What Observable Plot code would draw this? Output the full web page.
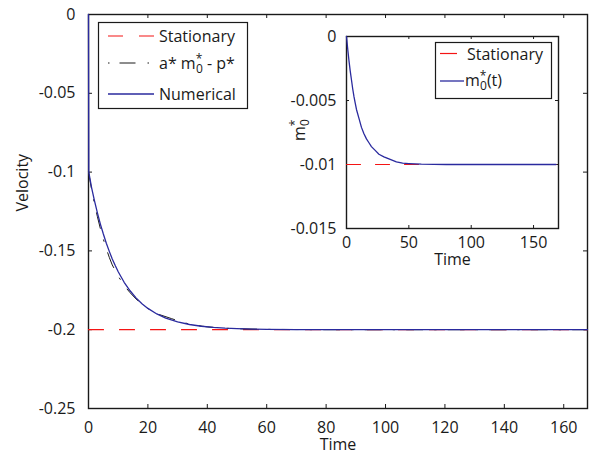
<!DOCTYPE html>
<html><head><meta charset="utf-8">
<script src="https://cdn.jsdelivr.net/npm/d3@7"></script>
<script src="https://cdn.jsdelivr.net/npm/@observablehq/plot@0.6"></script>
<style>
body{margin:0;background:#fff}
#wrap{position:relative;width:589px;height:454px}
#wrap svg{position:absolute;left:0;top:0}
</style>
</head><body><div id="wrap"></div>
<script>
// ---- data ----
const timeNum = [0, 0.1, 1, 2, 3, 4, 5, 6, 7, 8, 9, 10, 12, 14, 16, 18, 20, 23, 26, 30, 34, 38, 42, 46, 50, 55, 60, 70, 80, 100, 130, 168];
const velNum  = [0, -0.1, -0.1095, -0.1181, -0.1259, -0.1330, -0.1393, -0.1451, -0.1503, -0.1551, -0.1593, -0.1632, -0.1699, -0.1753, -0.1798, -0.1835, -0.1865, -0.1900, -0.1926, -0.1950, -0.1967, -0.1978, -0.1985, -0.1990, -0.1993, -0.1996, -0.1998, -0.1999, -0.2, -0.2, -0.2, -0.2];
const timeApprox = [0, 1, 2, 3, 4, 5, 6, 7, 8, 10, 12, 14, 16, 18, 20, 24, 28, 32, 36, 40, 45, 50, 60, 80, 120, 168];
const velApprox  = [-0.1, -0.1105, -0.1199, -0.1283, -0.1359, -0.1426, -0.1487, -0.1541, -0.1589, -0.1660, -0.1720, -0.1765, -0.1805, -0.1838, -0.1866, -0.1905, -0.1930, -0.1955, -0.1972, -0.1982, -0.1990, -0.1994, -0.1998, -0.2, -0.2, -0.2];
const timeStat = [0, 168];
const velStat = [-0.2, -0.2];
const timeM = [0, 1, 2, 3, 4, 5, 6, 7, 8, 10, 12, 14, 16, 18, 20, 23, 26, 30, 35, 40, 45, 50, 60, 80, 120, 168];
const m0 = [0, -0.0010, -0.0019, -0.0027, -0.0034, -0.0041, -0.0047, -0.0052, -0.0057, -0.0064, -0.0071, -0.0076, -0.0080, -0.0083, -0.0086, -0.0089, -0.0092, -0.0094, -0.0096, -0.0098, -0.0099, -0.00993, -0.00997, -0.0100, -0.0100, -0.0100];
const mStat = [-0.01, -0.01];
const mainTicksX = [0, 20, 40, 60, 80, 100, 120, 140, 160];
const mainTicksY = [0, -0.05, -0.1, -0.15, -0.2, -0.25];
const insetTicksX = [0, 50, 100, 150];
const insetTicksY = [0, -0.005, -0.01, -0.015];

const numerical = timeNum.map((t, i) => ({t, v: velNum[i]}));
const approx = timeApprox.map((t, i) => ({t, v: velApprox[i]}));
const stationary = timeStat.map((t, i) => ({t, v: velStat[i]}));
const mSeries = timeM.map((t, i) => ({t, v: m0[i]}));
const mStationary = timeStat.map((t, i) => ({t, v: mStat[i]}));

const FONT = "'Open Sans', sans-serif";
const INK = "#1a1a1a";
const RED = "#f41414";
const BLUE = "#2a2a9e";
const fmt = d => String(d);

// ---- main chart ----
const W = 589, H = 454, mL = 88, mR = 2, mT = 14, mB = 46;
const fw = W - mL - mR, fh = H - mT - mB;
const main = Plot.plot({
  width: W, height: H, marginLeft: mL, marginRight: mR, marginTop: mT, marginBottom: mB,
  style: {fontFamily: FONT, fontSize: "16px", color: INK, background: "white", overflow: "visible"},
  x: {domain: [0, 168]},
  y: {domain: [-0.25, 0]},
  marks: [
    Plot.frame({stroke: INK, strokeWidth: 1.4}),
    Plot.tickX(mainTicksX, {x: d => d, insetTop: fh - 4, stroke: INK}),
    Plot.tickX(mainTicksX, {x: d => d, insetBottom: fh - 4, stroke: INK}),
    Plot.tickY(mainTicksY, {y: d => d, insetRight: fw - 4, stroke: INK}),
    Plot.tickY(mainTicksY, {y: d => d, insetLeft: fw - 4, stroke: INK}),
    Plot.axisX({ticks: mainTicksX, tickSize: 0, tickPadding: 13, tickFormat: fmt, label: null}),
    Plot.axisY({ticks: mainTicksY, tickSize: 0, tickPadding: 13, tickFormat: fmt, label: null}),
    Plot.text(["Time"], {text: d => d, frameAnchor: "bottom", dy: 36, lineAnchor: "middle"}),
    Plot.text(["Velocity"], {text: d => d, frameAnchor: "left", dx: -66, rotate: -90, lineAnchor: "middle"}),
    Plot.line(stationary, {x: "t", y: "v", stroke: RED, strokeWidth: 1.2, strokeDasharray: "15,16"}),
    Plot.line(approx, {x: "t", y: "v", stroke: INK, strokeWidth: 1, strokeDasharray: "16,12,1.5,12"}),
    Plot.line(numerical, {x: "t", y: "v", stroke: BLUE, strokeWidth: 1.3})
  ]
});
document.getElementById("wrap").appendChild(main);

// main legend
{
  const svg = d3.select(main);
  const g = svg.append("g").attr("font-family", FONT).attr("font-size", 16).attr("fill", INK)
    .attr("text-anchor", "start");
  g.append("rect").attr("x", 98.5).attr("y", 22.5).attr("width", 149).attr("height", 86)
    .attr("fill", "white").attr("stroke", INK).attr("stroke-width", 1.2);
  g.append("line").attr("x1", 108).attr("x2", 154).attr("y1", 36).attr("y2", 36)
    .attr("stroke", RED).attr("stroke-width", 1.2).attr("stroke-dasharray", "15,16");
  g.append("text").attr("x", 159).attr("y", 42).text("Stationary");
  g.append("line").attr("x1", 108).attr("x2", 154).attr("y1", 63).attr("y2", 63)
    .attr("stroke", INK).attr("stroke-width", 1).attr("stroke-dasharray", "1.5,10,16,12,1.5,10");
  const t2 = g.append("text").attr("x", 159).attr("y", 68.5);
  t2.append("tspan").text("a* m");
  t2.append("tspan").attr("font-size", 12).attr("dy", -6).text("*");
  t2.append("tspan").attr("font-size", 12).attr("dx", -6.4).attr("dy", 10).text("0");
  t2.append("tspan").attr("dy", -4).text(" - p*");
  g.append("line").attr("x1", 108).attr("x2", 154).attr("y1", 94).attr("y2", 94)
    .attr("stroke", BLUE).attr("stroke-width", 1.3);
  g.append("text").attr("x", 159).attr("y", 100).text("Numerical");
}

// ---- inset chart ----
const iX = 280, iY = 20, iW = 309, iH = 255, iL = 66, iR = 31, iT = 16, iB = 47;
const ifw = iW - iL - iR, ifh = iH - iT - iB;
const inset = Plot.plot({
  width: iW, height: iH, marginLeft: iL, marginRight: iR, marginTop: iT, marginBottom: iB,
  style: {fontFamily: FONT, fontSize: "16px", color: INK, background: "transparent", overflow: "visible"},
  x: {domain: [0, 170]},
  y: {domain: [-0.015, 0]},
  marks: [
    Plot.frame({stroke: INK, strokeWidth: 1.4, fill: "white"}),
    Plot.tickX(insetTicksX, {x: d => d, insetTop: ifh - 3, stroke: INK}),
    Plot.tickX(insetTicksX, {x: d => d, insetBottom: ifh - 3, stroke: INK}),
    Plot.tickY(insetTicksY, {y: d => d, insetRight: ifw - 3, stroke: INK}),
    Plot.tickY(insetTicksY, {y: d => d, insetLeft: ifw - 3, stroke: INK}),
    Plot.axisX({ticks: insetTicksX, tickSize: 0, tickPadding: 8, tickFormat: fmt, label: null}),
    Plot.axisY({ticks: insetTicksY, tickSize: 0, tickPadding: 10, tickFormat: fmt, label: null}),
    Plot.text(["Time"], {text: d => d, frameAnchor: "bottom", dy: 31, lineAnchor: "middle"}),
    Plot.line(mStationary, {x: "t", y: "v", stroke: RED, strokeWidth: 1.2, strokeDasharray: "14,15"}),
    Plot.line(mSeries, {x: "t", y: "v", stroke: BLUE, strokeWidth: 1.3})
  ]
});
inset.style.left = iX + "px";
inset.style.top = iY + "px";
document.getElementById("wrap").appendChild(inset);

// inset legend and y label
{
  const svg = d3.select(inset);
  const g = svg.append("g").attr("font-family", FONT).attr("font-size", 16).attr("fill", INK)
    .attr("text-anchor", "start")
    .attr("transform", `translate(${-iX},${-iY})`);
  g.append("rect").attr("x", 435.5).attr("y", 42.5).attr("width", 116).attr("height", 56)
    .attr("fill", "white").attr("stroke", INK).attr("stroke-width", 1.2);
  g.append("line").attr("x1", 440).attr("x2", 464).attr("y1", 53.5).attr("y2", 53.5)
    .attr("stroke", RED).attr("stroke-width", 1.2).attr("stroke-dasharray", "17,30");
  g.append("text").attr("x", 467).attr("y", 60).text("Stationary");
  g.append("line").attr("x1", 440).attr("x2", 464).attr("y1", 81).attr("y2", 81)
    .attr("stroke", BLUE).attr("stroke-width", 1.3);
  const t = g.append("text").attr("x", 465).attr("y", 85.5);
  t.append("tspan").text("m");
  t.append("tspan").attr("font-size", 12).attr("dy", -6).text("*");
  t.append("tspan").attr("font-size", 12).attr("dx", -6.4).attr("dy", 10).text("0");
  t.append("tspan").attr("dy", -4).text("(t)");
  const yl = g.append("text").attr("text-anchor", "middle")
    .attr("transform", "translate(305,130) rotate(-90)");
  yl.append("tspan").text("m");
  yl.append("tspan").attr("font-size", 12).attr("dy", -6).text("*");
  yl.append("tspan").attr("font-size", 12).attr("dx", -6.4).attr("dy", 10).text("0");
}
</script>
</body></html>
